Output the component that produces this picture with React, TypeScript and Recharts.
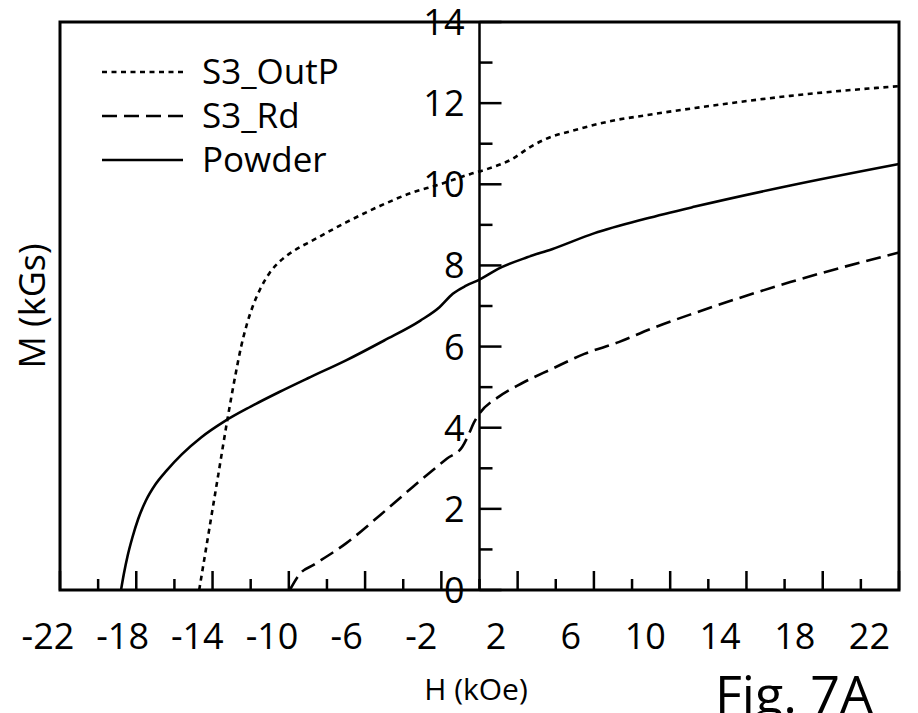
import { LineChart, Line, XAxis, YAxis, ReferenceArea, ReferenceLine, Legend } from 'recharts'

// H (kOe) / M (kGs)
const outpH = [-14.7, -14.2, -13.7, -13.2, -12.8, -12.5, -12.2, -11.9, -11.5, -11.0, -10.4, -9.7, -8.7, -7.0, -5.2, -3.5, -2.2, -0.5, 0.3, 1.7, 2.7, 3.4, 5.2, 6.9, 8.7, 11.3, 16.3, 22]
const outpM = [0, 1.42, 2.84, 4.26, 5.3, 6.0, 6.55, 6.98, 7.42, 7.82, 8.13, 8.37, 8.63, 9.06, 9.47, 9.8, 9.98, 10.25, 10.36, 10.62, 10.93, 11.1, 11.36, 11.56, 11.7, 11.88, 12.18, 12.42]

const rdH = [-9.95, -9.4, -8.7, -7.0, -5.2, -3.5, -1.7, -0.9, -0.6, -0.3, 0, 1.0, 2.2, 3.8, 5.5, 7.3, 9.0, 11.3, 16.3, 22]
const rdM = [0, 0.41, 0.62, 1.15, 1.85, 2.54, 3.24, 3.53, 3.8, 4.12, 4.35, 4.76, 5.09, 5.45, 5.82, 6.11, 6.44, 6.83, 7.59, 8.32]

const powderH = [-18.8, -18.65, -18.45, -18.2, -17.9, -17.5, -17.0, -16.4, -15.6, -14.6, -13.4, -12.0, -10.5, -9.0, -7.0, -5.0, -3.1, -2.1, -1.4, -0.7, 0, 1.0, 2.5, 3.8, 6.0, 8.7, 11.3, 16.3, 22]
const powderM = [0, 0.4, 0.85, 1.3, 1.75, 2.2, 2.6, 2.95, 3.35, 3.76, 4.15, 4.52, 4.88, 5.22, 5.66, 6.15, 6.64, 6.97, 7.3, 7.5, 7.65, 7.92, 8.2, 8.4, 8.79, 9.15, 9.45, 9.97, 10.5]

const seriesNames = ['S3_OutP', 'S3_Rd', 'Powder']
const xTicks = [-22, -20, -18, -16, -14, -12, -10, -8, -6, -4, -2, 0, 2, 4, 6, 8, 10, 12, 14, 16, 18, 20, 22]
const xLabels = [-22, -18, -14, -10, -6, -2, 2, 6, 10, 14, 18, 22]
const yTicks = [0, 1, 2, 3, 4, 5, 6, 7, 8, 9, 10, 11, 12, 13, 14]
const yLabels = [0, 2, 4, 6, 8, 10, 12, 14]

const W = 918
const H = 713
const margin = { top: 22, right: 19, left: 59, bottom: 0 }
const MID_X = 479.5
const FONT = "'Open Sans', sans-serif"
const dashes: Record<string, string | undefined> = { S3_OutP: '5 4.5', S3_Rd: '15 7', Powder: undefined }

const toPoints = (hs: number[], ms: number[]) => hs.map((h, i) => ({ h, m: ms[i] }))
const outp = toPoints(outpH, outpM)
const rd = toPoints(rdH, rdM)
const powder = toPoints(powderH, powderM)

function XTick({ x, y, payload }: any) {
  const v = payload.value
  const major = xLabels.includes(v)
  // the printed labels sit a little left of their ticks
  const dx = -12 - 0.4 * (v + 22)
  return (
    <g>
      <line x1={x} x2={x} y1={y} y2={y - (major ? 19 : 11)} stroke="#000" strokeWidth={2.5} />
      {major && (
        <text x={x + dx} y={y + 59} textAnchor="middle" fontSize={36} fontFamily={FONT} fill="#000">
          {v}
        </text>
      )}
    </g>
  )
}

function YTick({ y, payload }: any) {
  const v = payload.value
  const major = yLabels.includes(v)
  return (
    <g>
      <line x1={MID_X} x2={MID_X + (major ? 22 : 13)} y1={y} y2={y} stroke="#000" strokeWidth={2.5} />
      {major && (
        <text x={MID_X - 15} y={y + 13} textAnchor="end" fontSize={36} fontFamily={FONT} fill="#000">
          {v}
        </text>
      )}
    </g>
  )
}

function LegendBox() {
  return (
    <svg width={330} height={150} style={{ display: 'block', overflow: 'visible' }}>
      {seriesNames.map((name, i) => {
        const y = 22 + i * 44
        return (
          <g key={name}>
            <line x1={2} x2={83} y1={y} y2={y} stroke="#000" strokeWidth={2.6} strokeDasharray={dashes[name]} />
            <text x={102} y={y + 12} fontSize={35} fontFamily={FONT} fill="#000">
              {name}
            </text>
          </g>
        )
      })}
    </svg>
  )
}

export default function App() {
  return (
    <div style={{ position: 'absolute', left: 0, top: 0, width: W, height: H, background: '#fff' }}>
      <LineChart width={W} height={H} margin={margin}>
        <XAxis
          dataKey="h"
          type="number"
          domain={[-22, 22]}
          ticks={xTicks}
          interval={0}
          height={123}
          axisLine={false}
          tickLine={false}
          tickSize={0}
          tickMargin={0}
          tick={<XTick />}
        />
        <YAxis
          type="number"
          domain={[0, 14]}
          ticks={yTicks}
          interval={0}
          width={1}
          axisLine={false}
          tickLine={false}
          tickSize={0}
          tickMargin={0}
          tick={<YTick />}
        />
        <ReferenceLine x={0} stroke="#000" strokeWidth={2.5} />
        <Line data={outp} dataKey="m" name="S3_OutP" type="monotone" stroke="#000" strokeWidth={2.6} strokeDasharray={dashes.S3_OutP} dot={false} isAnimationActive={false} />
        <Line data={rd} dataKey="m" name="S3_Rd" type="monotone" stroke="#000" strokeWidth={2.6} strokeDasharray={dashes.S3_Rd} dot={false} isAnimationActive={false} />
        <Line data={powder} dataKey="m" name="Powder" type="monotone" stroke="#000" strokeWidth={2.6} dot={false} isAnimationActive={false} />
        <ReferenceArea x1={-22} x2={22} y1={0} y2={14} fill="none" fillOpacity={0} stroke="#000" strokeWidth={3} />
        <Legend
          layout="horizontal"
          verticalAlign="middle"
          align="center"
          content={<LegendBox />}
          wrapperStyle={{ left: 100, top: 50, width: 330, height: 150 }}
        />
      </LineChart>
      <svg width={W} height={H} style={{ position: 'absolute', left: 0, top: 0, pointerEvents: 'none' }}>
        <text x={31} y={306} transform="rotate(-90 31 306)" textAnchor="middle" dominantBaseline="central" fontSize={36} fontFamily={FONT} fill="#000">
          M (kGs)
        </text>
        <text x={476} y={700} textAnchor="middle" fontSize={30} fontFamily={FONT} fill="#000">
          H (kOe)
        </text>
        <text x={715} y={713} fontSize={52} fontFamily={FONT} fill="#000">
          Fig. 7A
        </text>
      </svg>
    </div>
  )
}
